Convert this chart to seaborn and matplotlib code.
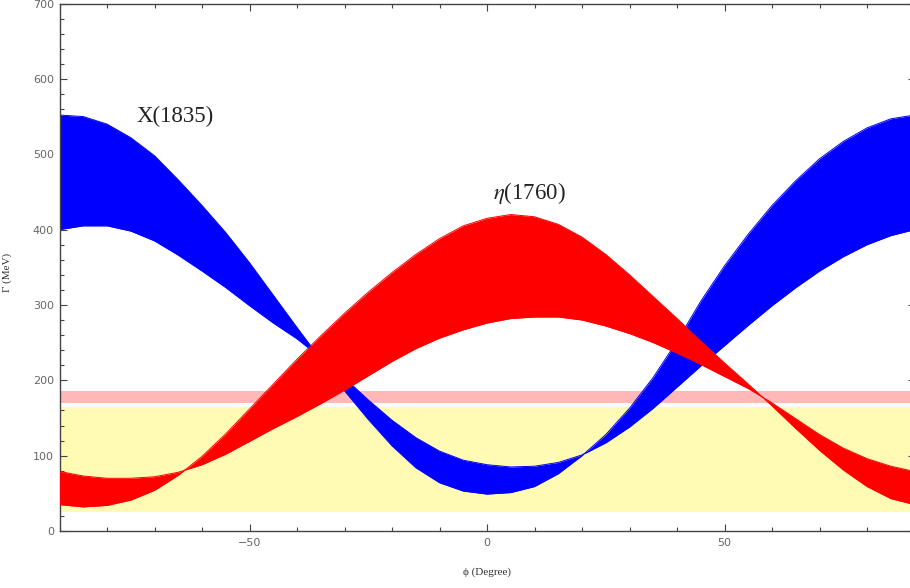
import matplotlib
matplotlib.use("Agg")
import matplotlib.pyplot as plt
from matplotlib.ticker import FixedLocator, MultipleLocator
import seaborn as sns
import pandas as pd

# mixing angle grid (degrees)
phi = list(range(-90, 91, 5))

# X(1835) band: the two bounding curves
x1835_a = [552, 550, 540, 522, 498, 466, 432, 396, 356, 313, 270, 228, 186, 148, 113, 84, 64, 53, 49,
           51, 59, 76, 100, 128, 163, 204, 252, 305, 352, 394, 432, 465, 494, 517, 535, 547, 552]
x1835_b = [400, 405, 405, 398, 385, 366, 345, 323, 299, 276, 255, 230, 203, 174, 147, 124, 106, 94, 88,
           85, 86, 91, 101, 117, 138, 163, 191, 219, 246, 273, 299, 323, 345, 364, 380, 392, 400]

# eta(1760) band: the two bounding curves
eta1760_a = [35, 32, 34, 41, 54, 74, 99, 129, 162, 195, 228, 259, 289, 317, 343, 367, 388, 405, 415,
             420, 417, 407, 390, 367, 340, 311, 282, 252, 223, 195, 166, 136, 107, 81, 59, 43, 35]
eta1760_b = [79, 73, 70, 70, 72, 78, 88, 102, 119, 136, 152, 169, 187, 206, 225, 242, 256, 267, 276,
             282, 284, 284, 280, 272, 262, 250, 236, 221, 205, 189, 170, 149, 128, 110, 96, 86, 79]

# horizontal reference bands (MeV)
pink_band = [170, 186]
yellow_band = [25, 164]

x_ticks = [-50, 0, 50]
y_ticks = [0, 100, 200, 300, 400, 500, 600, 700]

sns.set_style("ticks")
plt.rcParams['font.family'] = ['Liberation Serif', 'DejaVu Serif']
plt.rcParams['mathtext.fontset'] = 'stix'

fig = plt.figure(figsize=(9.1, 5.88), dpi=100)
ax = fig.add_axes([0.0654, 0.0969, 0.9396, 0.8971])

# experimental widths as flat bands
ax.axhspan(yellow_band[0], yellow_band[1], color='#fffab4', lw=0, zorder=0.5)
ax.axhspan(pink_band[0], pink_band[1], color='#ffb7b7', lw=0, zorder=0.6)

def draw_band(lo, hi, color, z):
    """Fill between two bounding curves and trace their edges with seaborn."""
    ax.fill_between(phi, lo, hi, color=color, lw=0, zorder=z)
    df = pd.DataFrame({'phi': phi * 2, 'G': lo + hi,
                       'curve': ['a'] * len(phi) + ['b'] * len(phi)})
    sns.lineplot(data=df, x='phi', y='G', units='curve', estimator=None,
                 color=color, lw=0.7, ax=ax, zorder=z + 0.1)

draw_band(x1835_a, x1835_b, '#0000ff', 2)
draw_band(eta1760_a, eta1760_b, '#ff0000', 3)

ax.text(-65.7, 550, 'X(1835)', fontsize=16.5, ha='center', va='center', color='#222222')
ax.text(9, 448, r'$\eta$(1760)', fontsize=16.5, ha='center', va='center', color='#222222')

ax.set_xlim(-90, 90)
ax.set_ylim(0, 700)
ax.xaxis.set_major_locator(FixedLocator(x_ticks))
ax.xaxis.set_minor_locator(MultipleLocator(10))
ax.yaxis.set_major_locator(FixedLocator(y_ticks))
ax.yaxis.set_minor_locator(MultipleLocator(20))

ax.tick_params(which='both', direction='in', top=True, right=True,
               color='#444444', width=0.8, labelsize=8, labelcolor='#666666')
ax.tick_params(which='major', length=5)
ax.tick_params(which='minor', length=3)
ax.tick_params(axis='x', pad=5)
ax.tick_params(axis='y', pad=4)
for lab in ax.get_xticklabels() + ax.get_yticklabels():
    lab.set_family('DejaVu Sans')

for s in ax.spines.values():
    s.set_color('#444444')
    s.set_linewidth(1.0)

ax.set_xlabel('ϕ (Degree)', fontsize=8, color='#333333')
ax.set_ylabel('Γ (MeV)', fontsize=8, color='#333333')
ax.xaxis.set_label_coords(0.5, -0.068)
ax.yaxis.set_label_coords(-0.0556, 0.49)

fig.savefig('out.png', dpi=100)
